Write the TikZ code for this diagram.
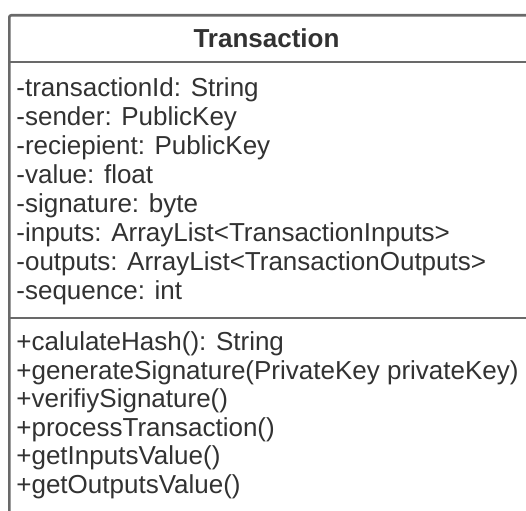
\documentclass[tikz,border=0pt]{standalone}
\usepackage{fontspec}
\setmainfont{Liberation Sans}
\usepackage{xcolor}
\definecolor{umlLine}{RGB}{105, 105, 105}
\definecolor{umlText}{RGB}{50, 50, 50}
\usetikzlibrary{positioning, calc}
\tikzset{
    classbox/.style={draw=umlLine, line width=1.3pt, rounded corners=1pt, fill=white, inner sep=0pt},
    divider/.style={draw=umlLine, line width=1.3pt},
    member/.style={anchor=base west, inner sep=0pt, text=umlText, font=\fontsize{13}{14.3}\selectfont},
    className/.style={inner sep=0pt, text=umlText, font=\fontsize{13}{14.3}\selectfont\bfseries}
}

\begin{document}
\begin{tikzpicture}
    \useasboundingbox (0,0) rectangle (263pt,255pt);
    % --- CLASS BOX ---
    \node[classbox, anchor=north west, minimum width=261pt, minimum height=255pt] (cls) at (4pt,248pt) {};
    \node[className] (clsName) at (133.25pt,236pt) {Transaction};

    \coordinate (headSep) at (0,224pt);
    \coordinate (attrSep) at (0,96pt);
    \draw[divider] (cls.west |- headSep) -- (cls.east |- headSep);
    \draw[divider] (cls.west |- attrSep) -- (cls.east |- attrSep);

    % --- ATTRIBUTES ---
    \foreach \txt [count=\i from 0] in {-transactionId: String, -sender: PublicKey, -reciepient: PublicKey,
        -value: float, -signature: byte, -inputs: ArrayList<TransactionInputs>,
        -outputs: ArrayList<TransactionOutputs>, -sequence: int}
        \node[member] (attr\i) at (8pt,206.5pt-\i*14.5pt) {\txt};

    % --- METHODS ---
    \foreach \txt [count=\i from 0] in {+calulateHash(): String, +generateSignature(PrivateKey privateKey),
        +verifiySignature(), +processTransaction(), +getInputsValue(), +getOutputsValue()}
        \node[member] (meth\i) at (8pt,79.5pt-\i*14.2pt) {\txt};
\end{tikzpicture}
\end{document}
